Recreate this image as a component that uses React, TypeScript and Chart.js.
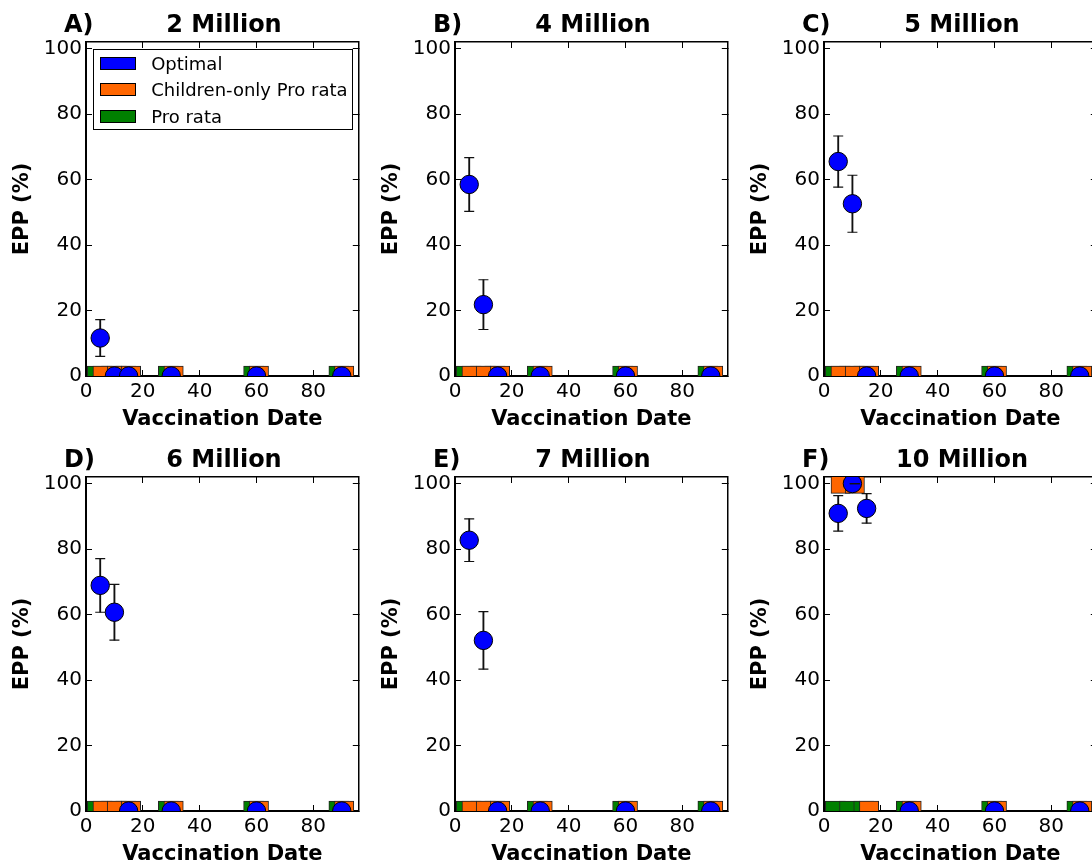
import React, { useEffect, useRef } from "react";
import { Chart, registerables } from "chart.js";

Chart.register(...registerables);

// ---------------- data ----------------
const dates = [5, 10, 15, 30, 60, 90];
const panelLetters = ["A)", "B)", "C)", "D)", "E)", "F)"];
const panelTitles = ["2 Million", "4 Million", "5 Million", "6 Million", "7 Million", "10 Million"];
const xTicks = [0, 20, 40, 60, 80];
const yTicks = [0, 20, 40, 60, 80, 100];
const legendLabels = ["Optimal", "Children-only Pro rata", "Pro rata"];
const xTitle = "Vaccination Date";
const yTitle = "EPP (%)";

const optimalA = [11.6, 0, 0, 0, 0, 0];
const optimalErrA = [5.6, 0, 0, 0, 0, 0];
const optimalB = [58.5, 21.8, 0, 0, 0, 0];
const optimalErrB = [8.2, 7.6, 0, 0, 0, 0];
const optimalC = [65.5, 52.6, 0, 0, 0, 0];
const optimalErrC = [7.8, 8.7, 0, 0, 0, 0];
const optimalD = [68.9, 60.7, 0, 0, 0, 0];
const optimalErrD = [8.2, 8.5, 0, 0, 0, 0];
const optimalE = [82.7, 52.1, 0, 0, 0, 0];
const optimalErrE = [6.5, 8.8, 0, 0, 0, 0];
const optimalF = [90.9, 100, 92.4, 0, 0, 0];
const optimalErrF = [5.4, 0, 4.5, 0, 0, 0];

const childrenA = [0, 0, 0, 0, 0, 0];
const childrenB = [0, 0, 0, 0, 0, 0];
const childrenC = [0, 0, 0, 0, 0, 0];
const childrenD = [0, 0, 0, 0, 0, 0];
const childrenE = [0, 0, 0, 0, 0, 0];
const childrenF = [100, 100, 0, 0, 0, 0];
const childrenErrF = [null, 0, null, null, null, null];

const proRataA = [0, 0, 0, 0, 0, 0];
const proRataB = [0, 0, 0, 0, 0, 0];
const proRataC = [0, 0, 0, 0, 0, 0];
const proRataD = [0, 0, 0, 0, 0, 0];
const proRataE = [0, 0, 0, 0, 0, 0];
const proRataF = [0, 0, 0, 0, 0, 0];

const panels = [
  { optimal: optimalA, optErr: optimalErrA, children: childrenA, childErr: null as (number | null)[] | null, proRata: proRataA },
  { optimal: optimalB, optErr: optimalErrB, children: childrenB, childErr: null, proRata: proRataB },
  { optimal: optimalC, optErr: optimalErrC, children: childrenC, childErr: null, proRata: proRataC },
  { optimal: optimalD, optErr: optimalErrD, children: childrenD, childErr: null, proRata: proRataD },
  { optimal: optimalE, optErr: optimalErrE, children: childrenE, childErr: null, proRata: proRataE },
  { optimal: optimalF, optErr: optimalErrF, children: childrenF, childErr: childrenErrF, proRata: proRataF },
];

// ---------------- layout / style ----------------
const FONT = "'DejaVu Sans', sans-serif";
const X_MIN = 0, X_MAX = 96, Y_MIN = 0, Y_MAX = 102;
const CANVAS_W = 369, CANVAS_H = 435;
const PLOT_LEFT = 86, PLOT_TOP = 42, PLOT_W = 276, PLOT_H = 334;
const PX_PER_X = PLOT_W / (X_MAX - X_MIN);
const BAR_HALF = 3; // half height of the bar marks, data units
const ORANGE_OFF = 0.85, ORANGE_W = 6.7;
const GREEN_OFF = -1, GREEN_W = 7;
const BLUE = "#0000ff", ORANGE = "#ff6600", GREEN = "#008000";

function tickGrid(len: number, width = 1) {
  return {
    display: true,
    offset: false,
    drawOnChartArea: false,
    drawTicks: true,
    tickLength: -len,
    color: "#000",
    tickColor: "#000",
    tickWidth: width,
  };
}

function buildConfig(p: typeof panels[number]): any {
  const bars = (vals: number[], off: number) =>
    dates.map((d, i) => ({ x: d + off, y: [vals[i] - BAR_HALF, vals[i] + BAR_HALF] }));
  const errIdx = dates.map((_, i) => i).filter((i) => p.optErr[i] > 0);
  const errLines = errIdx.map((i) => ({ x: dates[i], y: [p.optimal[i] - p.optErr[i], p.optimal[i] + p.optErr[i]] }));
  const errCaps: { x: number; y: number }[] = [];
  errIdx.forEach((i) => {
    errCaps.push({ x: dates[i], y: p.optimal[i] - p.optErr[i] });
    errCaps.push({ x: dates[i], y: p.optimal[i] + p.optErr[i] });
  });
  const childCaps: { x: number; y: number }[] = [];
  if (p.childErr) {
    p.childErr.forEach((e, i) => {
      if (e === null) return;
      childCaps.push({ x: dates[i] + ORANGE_OFF, y: p.children[i] - e });
      childCaps.push({ x: dates[i] + ORANGE_OFF, y: p.children[i] + e });
    });
  }
  const tickFont = { family: FONT, size: 20 };
  return {
    type: "bar",
    data: {
      datasets: [
        {
          type: "bar",
          label: legendLabels[2],
          data: bars(p.proRata, GREEN_OFF),
          backgroundColor: GREEN,
          borderColor: "#222",
          borderWidth: 1,
          borderSkipped: false,
          grouped: false,
          barThickness: GREEN_W * PX_PER_X,
          order: 6,
        },
        {
          type: "bar",
          label: legendLabels[1],
          data: bars(p.children, ORANGE_OFF),
          backgroundColor: ORANGE,
          borderColor: "#222",
          borderWidth: 1,
          borderSkipped: false,
          grouped: false,
          barThickness: ORANGE_W * PX_PER_X,
          order: 5,
        },
        {
          type: "bar",
          label: "err",
          data: errLines,
          backgroundColor: "#111",
          borderWidth: 0,
          grouped: false,
          barThickness: 1.2,
          order: 4,
        },
        {
          type: "line",
          label: "caps",
          data: errCaps,
          showLine: false,
          pointStyle: "line",
          pointRadius: 5,
          pointBorderWidth: 1.2,
          pointBorderColor: "#111",
          order: 3,
        },
        {
          type: "line",
          label: legendLabels[0],
          data: dates.map((d, i) => ({ x: d, y: p.optimal[i] })),
          showLine: false,
          pointStyle: "circle",
          pointRadius: 9.2,
          pointBackgroundColor: BLUE,
          pointBorderColor: "#000",
          pointBorderWidth: 1,
          order: 2,
        },
        {
          type: "line",
          label: "childCaps",
          data: childCaps,
          showLine: false,
          pointStyle: "line",
          pointRadius: 5,
          pointBorderWidth: 1.2,
          pointBorderColor: "#111",
          order: 1,
        },
      ],
    },
    options: {
      animation: false,
      responsive: false,
      events: [],
      layout: { padding: { top: PLOT_TOP, left: 0, right: CANVAS_W - PLOT_LEFT - PLOT_W, bottom: 0 } },
      plugins: { legend: { display: false }, tooltip: { enabled: false }, title: { display: false } },
      scales: {
        x: {
          type: "linear",
          position: "bottom",
          min: X_MIN,
          max: X_MAX,
          offset: false,
          z: 1,
          afterBuildTicks: (s: any) => { s.ticks = xTicks.map((v) => ({ value: v })); },
          afterFit: (s: any) => { s.height = CANVAS_H - PLOT_TOP - PLOT_H; },
          grid: tickGrid(6),
          border: { display: true, color: "#000", width: 2 },
          ticks: { color: "#000", font: tickFont, padding: 10, maxRotation: 0, autoSkip: false, callback: (v: any) => String(v) },
          title: { display: true, text: xTitle, color: "#000", font: { family: FONT, size: 21, weight: "bold" }, padding: { top: 0, bottom: 2.5 } },
        },
        y: {
          type: "linear",
          position: "left",
          min: Y_MIN,
          max: Y_MAX,
          z: 1,
          afterBuildTicks: (s: any) => { s.ticks = yTicks.map((v) => ({ value: v })); },
          afterFit: (s: any) => { s.width = PLOT_LEFT; },
          grid: tickGrid(6),
          border: { display: true, color: "#000", width: 2 },
          ticks: { color: "#000", font: tickFont, padding: 10, autoSkip: false, callback: (v: any) => String(v) },
          title: { display: true, text: yTitle, color: "#000", font: { family: FONT, size: 21, weight: "bold" }, padding: { top: 9.6, bottom: 0 } },
        },
        x2: {
          type: "linear",
          position: "top",
          min: X_MIN,
          max: X_MAX,
          offset: false,
          z: 1,
          afterBuildTicks: (s: any) => { s.ticks = xTicks.map((v) => ({ value: v })); },
          afterFit: (s: any) => { s.height = 0; },
          grid: tickGrid(6),
          border: { display: true, color: "#000", width: 1.5 },
          ticks: { display: false },
        },
        y2: {
          type: "linear",
          position: "right",
          min: Y_MIN,
          max: Y_MAX,
          z: 1,
          afterBuildTicks: (s: any) => { s.ticks = yTicks.map((v) => ({ value: v })); },
          afterFit: (s: any) => { s.width = 0; },
          grid: tickGrid(6),
          border: { display: true, color: "#000", width: 1.5 },
          ticks: { display: false },
        },
      },
    },
  };
}

function Panel({ idx }: { idx: number }) {
  const ref = useRef<HTMLCanvasElement | null>(null);
  const col = idx % 3, row = Math.floor(idx / 3);
  const left = col * CANVAS_W, top = row * CANVAS_H;
  useEffect(() => {
    if (!ref.current) return;
    const chart = new Chart(ref.current, buildConfig(panels[idx]));
    return () => chart.destroy();
  }, [idx]);
  const plotLeft = left + PLOT_LEFT, plotTop = top + PLOT_TOP;
  const titleStyle: React.CSSProperties = {
    position: "absolute",
    top: plotTop - 30.3,
    fontFamily: FONT,
    fontWeight: "bold",
    fontSize: 24,
    lineHeight: "24px",
    whiteSpace: "nowrap",
    color: "#000",
  };
  return (
    <>
      <canvas
        ref={ref}
        width={CANVAS_W}
        height={CANVAS_H}
        style={{ position: "absolute", left, top, width: CANVAS_W, height: CANVAS_H, display: "block" }}
      />
      <div style={{ ...titleStyle, left: plotLeft - 22 }}>{panelLetters[idx]}</div>
      <div style={{ ...titleStyle, left: plotLeft, width: PLOT_W, textAlign: "center" }}>{panelTitles[idx]}</div>
    </>
  );
}

function Legend() {
  const boxLeft = 93.3, boxTop = 49.3;
  const rows = [14.7, 40.7, 67.4];
  const colors = [BLUE, ORANGE, GREEN];
  return (
    <div
      style={{
        position: "absolute",
        left: boxLeft,
        top: boxTop,
        width: 259.4,
        height: 80.7,
        boxSizing: "border-box",
        border: "1.5px solid #000",
        background: "#fff",
      }}
    >
      {legendLabels.map((lab, i) => (
        <React.Fragment key={lab}>
          <div
            style={{
              position: "absolute",
              left: 100.7 - boxLeft - 1.5,
              top: rows[i] - 1.5 - 6.35,
              width: 36,
              height: 12.7,
              boxSizing: "border-box",
              border: "1px solid #000",
              background: colors[i],
            }}
          />
          <div
            style={{
              position: "absolute",
              left: 151.7 - boxLeft - 1.5,
              top: rows[i] - 1.5 - 8.67,
              fontFamily: FONT,
              fontSize: 18,
              lineHeight: "18px",
              whiteSpace: "nowrap",
              color: "#000",
            }}
          >
            {lab}
          </div>
        </React.Fragment>
      ))}
    </div>
  );
}

export default function App() {
  return (
    <div
      style={{
        position: "absolute",
        left: 0,
        top: 0,
        width: 1092,
        height: 864,
        overflow: "hidden",
        background: "#fff",
      }}
    >
      {panels.map((_, i) => (
        <Panel key={i} idx={i} />
      ))}
      <Legend />
    </div>
  );
}
